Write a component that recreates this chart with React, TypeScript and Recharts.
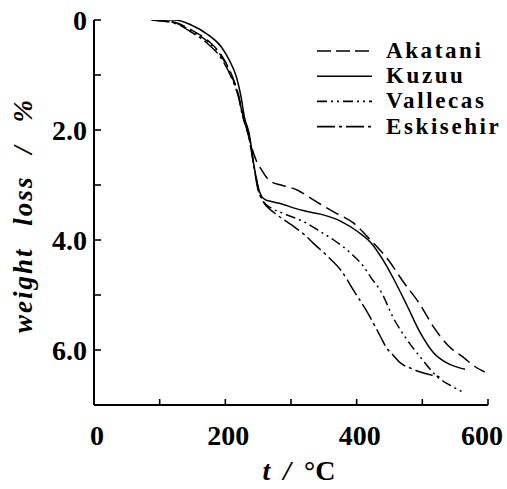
import React from 'react';
import { LineChart, Line, XAxis, YAxis } from 'recharts';

// ---- data (t in °C, weight loss in %) ----
const temperatureTicks = [0, 100, 200, 300, 400, 500, 600];
const xTickLabels: Record<number, string> = { 0: '0', 200: '200', 400: '400', 600: '600' };
const weightTicks = [0, 1, 2, 3, 4, 5, 6];
const yTickLabels: Record<number, string> = { 0: '0', 2: '2.0', 4: '4.0', 6: '6.0' };

const akatani = [
  { t: 88, w: 0 }, { t: 123, w: 0.04 }, { t: 148, w: 0.18 }, { t: 174, w: 0.38 },
  { t: 194, w: 0.64 }, { t: 209, w: 0.98 }, { t: 220, w: 1.36 }, { t: 227, w: 1.74 },
  { t: 234, w: 2.05 }, { t: 241, w: 2.35 }, { t: 248, w: 2.58 }, { t: 255, w: 2.72 },
  { t: 262, w: 2.85 }, { t: 270, w: 2.94 }, { t: 285, w: 3.0 }, { t: 311, w: 3.1 },
  { t: 326, w: 3.21 }, { t: 345, w: 3.35 }, { t: 365, w: 3.49 }, { t: 395, w: 3.69 },
  { t: 421, w: 4.0 }, { t: 448, w: 4.36 }, { t: 471, w: 4.76 }, { t: 497, w: 5.18 },
  { t: 517, w: 5.58 }, { t: 542, w: 5.95 }, { t: 562, w: 6.13 }, { t: 580, w: 6.3 },
  { t: 595, w: 6.4 },
];

const kuzuu = [
  { t: 88, w: 0 }, { t: 123, w: 0 }, { t: 148, w: 0.09 }, { t: 174, w: 0.27 },
  { t: 194, w: 0.49 }, { t: 206, w: 0.73 }, { t: 217, w: 1.04 }, { t: 224, w: 1.4 },
  { t: 229, w: 1.76 }, { t: 236, w: 2.05 }, { t: 244, w: 2.67 }, { t: 250, w: 3.04 },
  { t: 255, w: 3.2 }, { t: 260, w: 3.26 }, { t: 270, w: 3.3 }, { t: 285, w: 3.34 },
  { t: 305, w: 3.42 }, { t: 320, w: 3.47 }, { t: 345, w: 3.53 }, { t: 376, w: 3.66 },
  { t: 402, w: 3.85 }, { t: 421, w: 4.04 }, { t: 441, w: 4.38 }, { t: 456, w: 4.7 },
  { t: 477, w: 5.2 }, { t: 497, w: 5.69 }, { t: 517, w: 6.05 }, { t: 538, w: 6.24 },
  { t: 558, w: 6.33 }, { t: 565, w: 6.35 },
];

const vallecas = [
  { t: 88, w: 0 }, { t: 123, w: 0.05 }, { t: 148, w: 0.2 }, { t: 174, w: 0.4 },
  { t: 194, w: 0.66 }, { t: 209, w: 1.0 }, { t: 220, w: 1.38 }, { t: 227, w: 1.76 },
  { t: 235, w: 2.05 }, { t: 244, w: 2.67 }, { t: 251, w: 3.1 }, { t: 258, w: 3.3 },
  { t: 270, w: 3.42 }, { t: 289, w: 3.52 }, { t: 320, w: 3.67 }, { t: 345, w: 3.85 },
  { t: 365, w: 4.0 }, { t: 391, w: 4.24 }, { t: 411, w: 4.49 }, { t: 421, w: 4.67 },
  { t: 438, w: 4.96 }, { t: 456, w: 5.42 }, { t: 477, w: 5.82 }, { t: 497, w: 6.13 },
  { t: 523, w: 6.49 }, { t: 542, w: 6.64 }, { t: 561, w: 6.76 },
];

const eskisehir = [
  { t: 88, w: 0 }, { t: 123, w: 0.06 }, { t: 148, w: 0.22 }, { t: 174, w: 0.44 },
  { t: 194, w: 0.7 }, { t: 209, w: 1.04 }, { t: 220, w: 1.4 }, { t: 227, w: 1.78 },
  { t: 235, w: 2.08 }, { t: 244, w: 2.7 }, { t: 250, w: 3.1 }, { t: 255, w: 3.24 },
  { t: 259, w: 3.33 }, { t: 274, w: 3.5 }, { t: 290, w: 3.64 }, { t: 305, w: 3.76 },
  { t: 320, w: 3.9 }, { t: 335, w: 4.07 }, { t: 356, w: 4.3 }, { t: 376, w: 4.55 },
  { t: 395, w: 4.91 }, { t: 417, w: 5.33 }, { t: 436, w: 5.75 }, { t: 445, w: 5.95 },
  { t: 456, w: 6.1 }, { t: 467, w: 6.24 }, { t: 482, w: 6.33 }, { t: 497, w: 6.4 },
  { t: 512, w: 6.45 }, { t: 527, w: 6.49 },
];

const seriesNames = ['Akatani', 'Kuzuu', 'Vallecas', 'Eskisehir'];
const seriesData = [akatani, kuzuu, vallecas, eskisehir];
const seriesDash = ['14 6', '', '10 4 2 4 2 4', '18 4 3 4'];

const FONT = '"Liberation Serif", "Times New Roman", serif';

const XTick = (props: any) => {
  const { x, y, payload } = props;
  const label = xTickLabels[payload.value] ?? '';
  const dx = payload.value === 600 ? -6 : 3;
  return (
    <g>
      <line x1={x} y1={y} x2={x} y2={y - 6} stroke="#000" strokeWidth={1.6} />
      {label && (
        <text x={x + dx} y={y + 40} textAnchor="middle" fontFamily={FONT} fontWeight="bold" fontSize={28} fill="#000">
          {label}
        </text>
      )}
    </g>
  );
};

const YTick = (props: any) => {
  const { x, y, payload } = props;
  const label = yTickLabels[payload.value] ?? '';
  return (
    <g>
      <line x1={x} y1={y} x2={x + 7} y2={y} stroke="#000" strokeWidth={1.6} />
      {label && (
        <text x={x - 7} y={y} dy="0.35em" textAnchor="end" fontFamily={FONT} fontWeight="bold" fontSize={28} fill="#000">
          {label}
        </text>
      )}
    </g>
  );
};

const YTitle = (props: any) => {
  const vb = props.viewBox || { x: 0, y: 20, width: 94, height: 385 };
  const cx = vb.x + 23;
  const cy = vb.y + vb.height / 2 + 3;
  return (
    <text
      transform={`translate(${cx},${cy}) rotate(-90)`}
      textAnchor="middle"
      dy="0.35em"
      fontFamily={FONT}
      fontWeight="bold"
      fontStyle="italic"
      fontSize={27}
      letterSpacing={2}
      wordSpacing={13}
      fill="#000"
    >
      weight loss / %
    </text>
  );
};

const XTitle = (props: any) => {
  const vb = props.viewBox || { x: 94, y: 405, width: 394, height: 84 };
  const cx = vb.x + vb.width / 2 + 8;
  const cy = vb.y + 75;
  return (
    <text x={cx} y={cy} textAnchor="middle" fontFamily={FONT} fontWeight="bold" fontSize={28} wordSpacing={6} fill="#000">
      <tspan fontStyle="italic">t /</tspan>
      <tspan> °C</tspan>
    </text>
  );
};

const ROW = 25.2;

const LegendBox = () => (
  <svg width={190} height={116} style={{ position: 'absolute', left: 317, top: 28 }}>
    {seriesNames.map((name, i) => (
      <g key={name}>
        <line
          x1={0}
          x2={55}
          y1={23 + ROW * i}
          y2={23 + ROW * i}
          stroke="#000"
          strokeWidth={1.6}
          strokeDasharray={seriesDash[i] === '' ? undefined : (i === 0 ? '14 5' : seriesDash[i])}
        />
        <text x={69} y={30 + ROW * i} fontFamily={FONT} fontWeight="bold" fontSize={23} letterSpacing={2.6} fill="#000">
          {name}
        </text>
      </g>
    ))}
  </svg>
);

export default function App() {
  return (
    <div style={{ position: 'absolute', left: 0, top: 0, width: 507, height: 489, background: '#fff' }}>
      <LineChart width={507} height={489} margin={{ top: 20, right: 19, bottom: 0, left: 0 }}>
        <XAxis
          type="number"
          dataKey="t"
          domain={[0, 600]}
          ticks={temperatureTicks}
          allowDataOverflow
          height={84}
          tickSize={0}
          tickMargin={0}
          tickLine={false}
          tick={<XTick />}
          axisLine={{ stroke: '#000', strokeWidth: 2 }}
          label={<XTitle />}
          interval={0}
        />
        <YAxis
          type="number"
          dataKey="w"
          domain={[0, 7]}
          reversed
          ticks={weightTicks}
          allowDataOverflow
          width={94}
          tickSize={0}
          tickMargin={0}
          tickLine={false}
          tick={<YTick />}
          axisLine={{ stroke: '#000', strokeWidth: 2 }}
          label={<YTitle />}
          interval={0}
        />
        {seriesNames.map((name, i) => (
          <Line
            key={name}
            name={name}
            data={seriesData[i]}
            dataKey="w"
            type="monotone"
            stroke="#000"
            strokeWidth={1.5}
            strokeDasharray={seriesDash[i] === '' ? undefined : seriesDash[i]}
            dot={false}
            activeDot={false}
            isAnimationActive={false}
          />
        ))}
      </LineChart>
      <LegendBox />
    </div>
  );
}
